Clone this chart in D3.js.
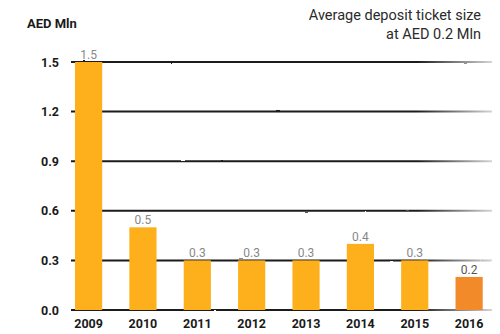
<!DOCTYPE html>
<html>
<head>
<meta charset="utf-8">
<script src="https://cdn.jsdelivr.net/npm/d3@7"></script>
<style>
  html, body { margin: 0; padding: 0; background: #fff; }
  svg { display: block; }
</style>
</head>
<body>
<svg id="chart" width="500" height="334"></svg>
<script>
const years = ["2009", "2010", "2011", "2012", "2013", "2014", "2015", "2016"];
const values = [1.5, 0.5, 0.3, 0.3, 0.3, 0.4, 0.3, 0.2];
const valueLabels = ["1.5", "0.5", "0.3", "0.3", "0.3", "0.4", "0.3", "0.2"];
const yTicks = [0.0, 0.3, 0.6, 0.9, 1.2, 1.5];
const highlightYear = "2016";

const svg = d3.select("#chart");

const x = d3.scaleBand().domain(years).range([61.4, 496.3])
  .paddingInner(0.5).paddingOuter(0.25);
const y = d3.scaleLinear().domain([0, 1.5]).range([310, 62]);

// Gradient so the grid strokes fade out on the right
const defs = svg.append("defs");
const grad = defs.append("linearGradient").attr("id", "gridFade")
  .attr("gradientUnits", "userSpaceOnUse")
  .attr("x1", 71).attr("x2", 492).attr("y1", 0).attr("y2", 0);
grad.append("stop").attr("offset", "0%").attr("stop-color", "#1a1a1a");
grad.append("stop").attr("offset", "82%").attr("stop-color", "#1a1a1a");
grad.append("stop").attr("offset", "100%").attr("stop-color", "#d5d5d5");

// Slightly rough, brushed look for the grid strokes
const rough = defs.append("filter").attr("id", "rough")
  .attr("filterUnits", "userSpaceOnUse")
  .attr("x", 0).attr("y", 0).attr("width", 500).attr("height", 334);
rough.append("feTurbulence").attr("type", "fractalNoise")
  .attr("baseFrequency", "0.08 0.6").attr("numOctaves", 2).attr("seed", 3).attr("result", "n");
rough.append("feDisplacementMap").attr("in", "SourceGraphic").attr("in2", "n")
  .attr("scale", 1.6).attr("xChannelSelector", "R").attr("yChannelSelector", "G");

// Y axis tick labels
const yAxis = d3.axisLeft(y).tickValues(yTicks)
  .tickFormat(d3.format(".1f")).tickSize(0).tickPadding(0);
const gy = svg.append("g").attr("transform", "translate(60,0)").call(yAxis);
gy.select(".domain").remove();
gy.selectAll("text")
  .attr("x", -1)
  .style("font-family", "Roboto, 'DejaVu Sans', sans-serif")
  .style("font-weight", "700")
  .style("font-size", "12.5px")
  .attr("fill", "#1a1a1a");

// Grid lines
svg.append("g").attr("filter", "url(#rough)")
  .selectAll("line.grid").data(yTicks).join("line")
  .attr("class", "grid")
  .attr("x1", 71).attr("x2", 492)
  .attr("y1", d => y(d)).attr("y2", d => y(d))
  .attr("stroke", "url(#gridFade)")
  .attr("stroke-width", 2);

// Axis title
svg.append("text").attr("x", 27).attr("y", 28)
  .style("font-family", "Roboto, 'DejaVu Sans', sans-serif")
  .style("font-weight", "700").style("font-size", "13px")
  .attr("fill", "#1a1a1a").text("AED Mln");

// Annotation at top right
const note = svg.append("text").attr("text-anchor", "end")
  .style("font-family", "Roboto, 'DejaVu Sans', sans-serif")
  .style("font-weight", "400").style("font-size", "14.5px")
  .attr("fill", "#2a2a2a");
note.append("tspan").attr("x", 481).attr("y", 20).text("Average deposit ticket size");
note.append("tspan").attr("x", 481).attr("y", 39).text("at AED 0.2 Mln");

// Bars
const data = years.map((yr, i) => ({ year: yr, value: values[i], label: valueLabels[i] }));
svg.append("g").selectAll("rect").data(data).join("rect")
  .attr("x", d => x(d.year))
  .attr("width", x.bandwidth())
  .attr("y", d => y(d.value))
  .attr("height", d => y(0) - y(d.value))
  .attr("fill", d => d.year === highlightYear ? "#f28a2a" : "#fdb01b");

// Value labels above the bars
svg.append("g").selectAll("text").data(data).join("text")
  .attr("x", d => x(d.year) + x.bandwidth() / 2)
  .attr("y", d => y(d.value) - 3)
  .attr("text-anchor", "middle")
  .style("font-family", "Roboto, 'DejaVu Sans', sans-serif")
  .style("font-size", "12px")
  .attr("fill", d => d.year === highlightYear ? "#555" : "#888")
  .text(d => d.label);

// X axis
const xAxis = d3.axisBottom(x).tickSize(0).tickPadding(0);
const gx = svg.append("g").attr("transform", "translate(0,310)").call(xAxis);
gx.select(".domain").remove();
gx.selectAll("text")
  .attr("y", 9)
  .style("font-family", "Roboto, 'DejaVu Sans', sans-serif")
  .style("font-weight", "700")
  .style("font-size", "12.5px")
  .attr("fill", "#1a1a1a");
</script>
</body>
</html>
